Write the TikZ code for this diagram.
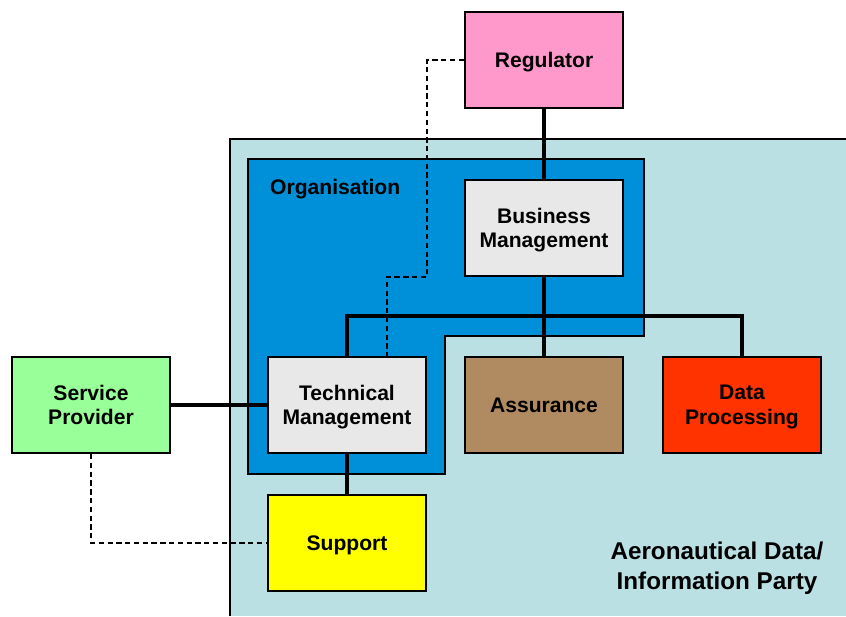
\documentclass[tikz,border=0pt]{standalone}
\usepackage{fontspec}
\setmainfont{Liberation Sans}
\definecolor{partyteal}{RGB}{187,224,227}
\definecolor{orgblue}{RGB}{0,144,218}
\definecolor{mgmtgray}{RGB}{232,232,232}
\definecolor{regpink}{RGB}{255,153,204}
\definecolor{assurbrown}{RGB}{176,138,96}
\definecolor{datared}{RGB}{255,51,0}
\definecolor{provgreen}{RGB}{153,255,153}
\definecolor{suppyellow}{RGB}{255,255,0}
\begin{document}
\begin{tikzpicture}[x=0.02cm,y=-0.02cm,
    box/.style={draw,line width=1.3pt,minimum width=3.16cm,minimum height=1.92cm,
        align=center,text depth=0pt,font=\fontsize{12}{14}\selectfont\bfseries},
    link/.style={line width=2pt},
    dashlink/.style={line width=1.3pt,dash pattern=on 3pt off 2pt}]

    \useasboundingbox (0,0) rectangle (846,616);
    % party and organisation
    \fill [partyteal] (230,139) rectangle (846,616);
    \draw [line width=1.3pt] (230,616) -- (230,139) -- (846,139);
    \draw [line width=1.3pt,fill=orgblue] (248,159) -- (644,159) -- (644,336)
        -- (445,336) -- (445,474) -- (248,474) -- cycle;
    \node [anchor=west,font=\fontsize{12}{14}\selectfont\bfseries] (9) at (264,189) {Organisation};
    \node [align=center,font=\fontsize{13.8}{17}\selectfont\bfseries] (10) at (717,568) {Aeronautical Data/\\Information Party};
    % boxes
    \node [box,fill=regpink] (0) at (544,60) {Regulator};
    \node [box,fill=mgmtgray] (1) at (544,228) {Business\\Management};
    \node [box,fill=mgmtgray] (2) at (347,405) {Technical\\Management};
    \node [box,fill=assurbrown] (3) at (544,405) {Assurance};
    \node [box,fill=datared] (4) at (742,405) {Data\\Processing};
    \node [box,fill=provgreen] (5) at (91,405) {Service\\Provider};
    \node [box,fill=suppyellow] (6) at (347,543) {Support};
    \coordinate (7) at (347,316);
    \coordinate (8) at (742,316);
    \coordinate (11) at (427,277);
    \coordinate (12) at (387,277);
	% edges
    \draw [link] (0) to (1);
    \draw [link] (1) to (3);
    \draw [link] (2.north) to (7) to (8) to (4.north);
    \draw [link] (2) to (6);
    \draw [link] (5) to (2);
    \draw [dashlink] (0.west) -| (11) to (12) to (12 |- 2.north);
    \draw [dashlink] (5.south) |- (6.west);
\end{tikzpicture}
\end{document}
